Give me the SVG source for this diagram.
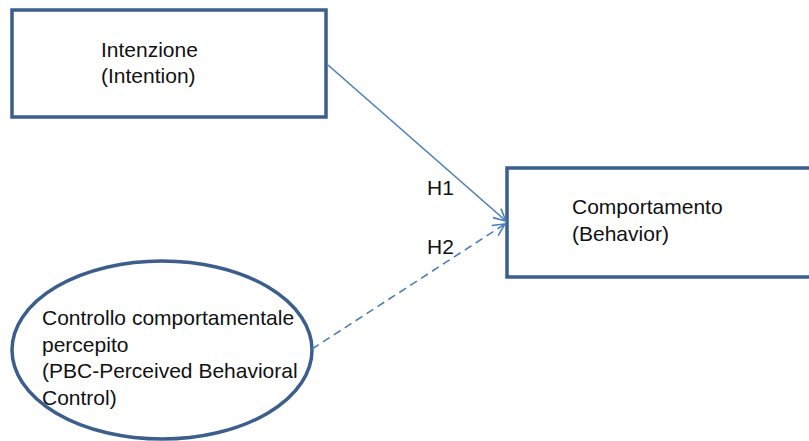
<svg xmlns="http://www.w3.org/2000/svg" width="809" height="441" viewBox="0 0 809 441">
<style>
.node{fill:#ffffff;stroke:#3B5E8C;stroke-width:3.5}
.lbl{font-family:"Liberation Sans",Arial,sans-serif;font-size:21px;fill:#111111}
.conn{fill:none;stroke:#4A7EBB;stroke-width:1.6}
.dash{stroke-dasharray:8 5}
</style>
<defs>
<marker id="arr" markerUnits="userSpaceOnUse" markerWidth="16" markerHeight="16" refX="13" refY="7" orient="auto" overflow="visible">
<path d="M1,1 L13,7 L1,13" fill="none" stroke="#4A7EBB" stroke-width="1.6"/>
</marker>
</defs>
<rect width="809" height="441" fill="#ffffff"/>
<g id="intenzione">
<rect class="node" x="12" y="10" width="314" height="107"/>
<text class="lbl" x="101" y="57">Intenzione</text>
<text class="lbl" x="101" y="83">(Intention)</text>
</g>
<g id="comportamento">
<rect class="node" x="507" y="168" width="310" height="109"/>
<text class="lbl" x="572" y="214">Comportamento</text>
<text class="lbl" x="572" y="241">(Behavior)</text>
</g>
<g id="pbc">
<ellipse class="node" cx="162" cy="350" rx="150" ry="89" stroke-width="3"/>
<text class="lbl" x="42" y="325">Controllo comportamentale</text>
<text class="lbl" x="42" y="352">percepito</text>
<text class="lbl" x="42" y="378">(PBC-Perceived Behavioral</text>
<text class="lbl" x="42" y="405">Control)</text>
</g>
<g id="connectors">
<line class="conn" x1="328" y1="65" x2="506" y2="221" marker-end="url(#arr)"/>
<line class="conn dash" x1="312" y1="349" x2="505" y2="224" marker-end="url(#arr)"/>
<text class="lbl" x="427" y="195">H1</text>
<text class="lbl" x="427" y="254">H2</text>
</g>
</svg>
